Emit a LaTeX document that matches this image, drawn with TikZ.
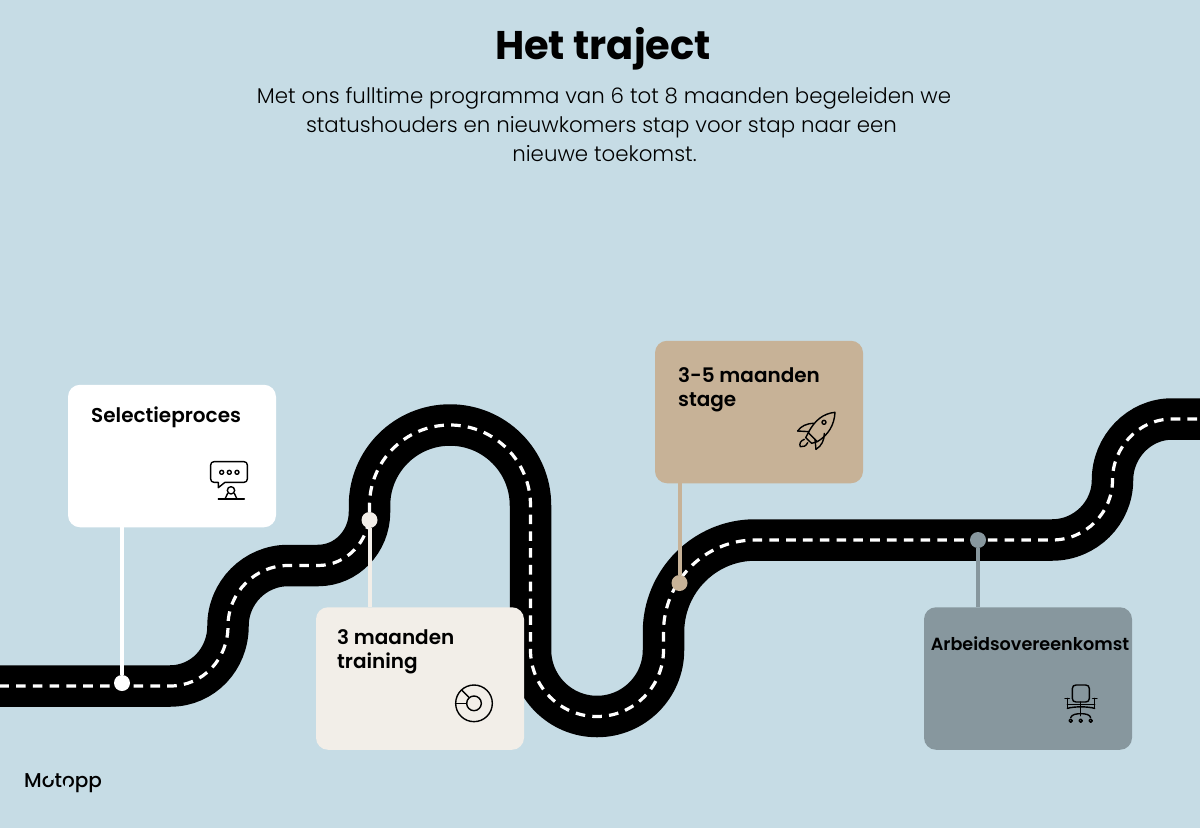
\documentclass[tikz,border=0pt]{standalone}
\usepackage{fontspec}
\setmainfont{Poppins}
\newfontfamily\semi{Poppins SemiBold}
\newfontfamily\medi{Poppins Medium}
\newfontfamily\lite{Poppins Light}
\definecolor{bg}{HTML}{C6DCE5}
\definecolor{cwhite}{HTML}{FFFFFF}
\definecolor{ctrain}{HTML}{F2EEE8}
\definecolor{cstage}{HTML}{C7B297}
\definecolor{carb}{HTML}{87979E}
\begin{document}
\begin{tikzpicture}[x=1pt,y=-1pt,
  card/.style={rectangle,rounded corners=12pt,minimum width=208pt,minimum height=142.5pt,inner sep=0pt,draw=none},
  cardtext/.style={anchor=base west,inner sep=0pt,font=\semi\fontsize{20}{24}\selectfont,text=black},
  subtext/.style={anchor=base,inner sep=0pt,font=\lite\fontsize{21.33}{29}\selectfont,text=black},
  dot/.style={circle,minimum size=16pt,inner sep=0pt,draw=none},
  link/.style={line width=4pt},
  ico/.style={line width=1.4pt,draw=black,line cap=round,line join=round},
  roadpath/.style={line width=41.5pt,draw=black},
  roaddash/.style={line width=3.2pt,draw=white,dash pattern=on 9.6pt off 7.2pt,dash phase=11.6pt}]
\path[use as bounding box,fill=bg] (0,0) rectangle (1200,828);
\clip (0,0) rectangle (1200,828);
\def\roadcourse{(-6,686) -- (170,686)
  .. controls (203,686) and (228,659) .. (228,626)
  .. controls (228,592.5) and (255,565.5) .. (288,565.5)
  -- (318,565.5)
  .. controls (346.5,565.5) and (369.5,541.5) .. (369.5,512)
  -- (369.5,505.5)
  .. controls (369.5,461) and (405.5,425) .. (450,425)
  .. controls (494.5,425) and (530.5,461) .. (530.5,505.5)
  -- (530.5,650)
  .. controls (530.5,686.7) and (560.3,716.5) .. (597,716.5)
  .. controls (633.7,716.5) and (663.5,686.7) .. (663.5,650)
  -- (663.5,632)
  .. controls (663.5,581.5) and (704.5,540) .. (755,540)
  -- (1052,540)
  .. controls (1085.4,540) and (1112.5,513) .. (1112.5,480)
  .. controls (1112.5,447) and (1139,419) .. (1172,419)
  -- (1206,419)}
\draw[roadpath] \roadcourse;
\draw[roaddash] \roadcourse;
% dots
\node[dot,fill=cwhite] (d1) at (122,683) {};
\node[dot,fill=ctrain] (d2) at (369.5,520) {};
\node[dot,fill=cstage] (d3) at (679.5,583) {};
\node[dot,fill=carb] (d4) at (978,540) {};
% cards
\node[card,fill=cwhite] (c1) at (172,456) {};
\node[card,fill=ctrain] (c2) at (420,678.5) {};
\node[card,fill=cstage] (c3) at (759,412) {};
\node[card,fill=carb] (c4) at (1028,678.5) {};
% connectors
\draw[link,cwhite] (c1.south -| d1) -- (d1);
\draw[link,ctrain] (c2.north -| d2) -- (d2);
\draw[link,cstage] (c3.south -| d3) -- (d3);
\draw[link,carb] (c4.north -| d4) -- (d4);
% texts
\node[anchor=base,inner sep=0pt,font=\bfseries\fontsize{40}{48}\selectfont] (title) at (603,59) {Het traject};
\node[subtext] (s1) at (604,103.5) {Met ons fulltime programma van 6 tot 8 maanden begeleiden we};
\node[subtext] (s2) at (601.5,132.5) {statushouders en nieuwkomers stap voor stap naar een};
\node[subtext] (s3) at (604.5,161.5) {nieuwe toekomst.};
\node[cardtext] (t1) at (91,422) {Selectieproces};
\node[cardtext] (t2a) at (337,644) {3 maanden};
\node[cardtext] (t2b) at (337,668) {training};
\node[cardtext] (t3a) at (678,382) {3-5 maanden};
\node[cardtext] (t3b) at (678,406) {stage};
\node[cardtext,anchor=base,font=\semi\fontsize{17.6}{21}\selectfont] (t4) at (1030,650) {Arbeidsovereenkomst};
% icon 1
\begin{scope}[shift={(190,450)},x=0.3333pt,y=-0.3333pt]
\draw[ico] (72,35) -- (162,35) .. controls (168,35) and (172,39) .. (172,45) -- (172,87)
  .. controls (172,93) and (168,97) .. (162,97) -- (105,97) -- (85,113) -- (85,97) -- (72,97)
  .. controls (66,97) and (62,93) .. (62,87) -- (62,45) .. controls (62,39) and (66,35) .. (72,35) -- cycle;
\foreach \u in {95,118,141} \draw[ico] (\u,67) circle (6);
\draw[ico] (123,121) circle (11);
\draw[ico] (113,130) -- (105,147);
\draw[ico] (133,130) -- (141,147);
\draw[ico] (85,147) -- (163,147);
\end{scope}
% icon 2
\begin{scope}[shift={(440,675)},x=0.3333pt,y=-0.3333pt]
\draw[ico] (102,85) circle (55);
\draw[ico] (102,85) circle (22);
\draw[ico] (47,85) -- (80,85);
\draw[ico] (65,45) -- (87,67);
\end{scope}
% icon 3
\begin{scope}[shift={(785,400)},x=0.3333pt,y=-0.3333pt]
\draw[ico] (150,37) .. controls (115,40) and (88,62) .. (70,98) -- (97,125) .. controls (130,105) and (148,75) .. (150,37) -- cycle;
\draw[ico] (117,67) circle (6);
\draw[ico] (38,93) .. controls (48,78) and (65,70) .. (88,70);
\draw[ico] (38,93) -- (72,95);
\draw[ico] (93,148) .. controls (110,138) and (118,120) .. (118,100);
\draw[ico] (93,148) -- (90,118);
\draw[ico] (70,98) -- (62,113) -- (80,130) -- (97,125);
\draw[ico] (58,118) .. controls (46,122) and (42,132) .. (46,140) .. controls (54,142) and (64,138) .. (68,128);
\end{scope}
% icon 4
\begin{scope}[shift={(1050,675)},x=0.3333pt,y=-0.3333pt]
\draw[ico] (78,30) -- (107,30) .. controls (114,30) and (118,34) .. (118,41) -- (118,70)
  .. controls (118,77) and (114,81) .. (107,81) -- (78,81) .. controls (71,81) and (67,77) .. (67,70) -- (67,41) .. controls (67,34) and (71,30) .. (78,30) -- cycle;
\draw[ico] (45,70) -- (58,70) (52,70) -- (52,100);
\draw[ico] (128,70) -- (141,70) (134,70) -- (134,100);
\draw[ico] (52,88) -- (134,88);
\draw[ico] (52,100) .. controls (75,94) and (110,94) .. (134,100);
\draw[ico] (92,81) -- (92,122);
\draw[ico] (62,128) .. controls (65,118) and (80,116) .. (92,116) .. controls (105,116) and (120,118) .. (122,128);
\foreach \u in {62,92,122} \draw[ico] (\u,137) circle (5);
\end{scope}
% logo
\node[anchor=base west,inner sep=0pt,font=\medi\fontsize{20}{24}\selectfont] (logo) at (24,787) {Motopp};
\fill[bg] (48,774) rectangle (53,779.5);
\fill[bg] (64.5,781) rectangle (69,788);
\end{tikzpicture}
\end{document}
